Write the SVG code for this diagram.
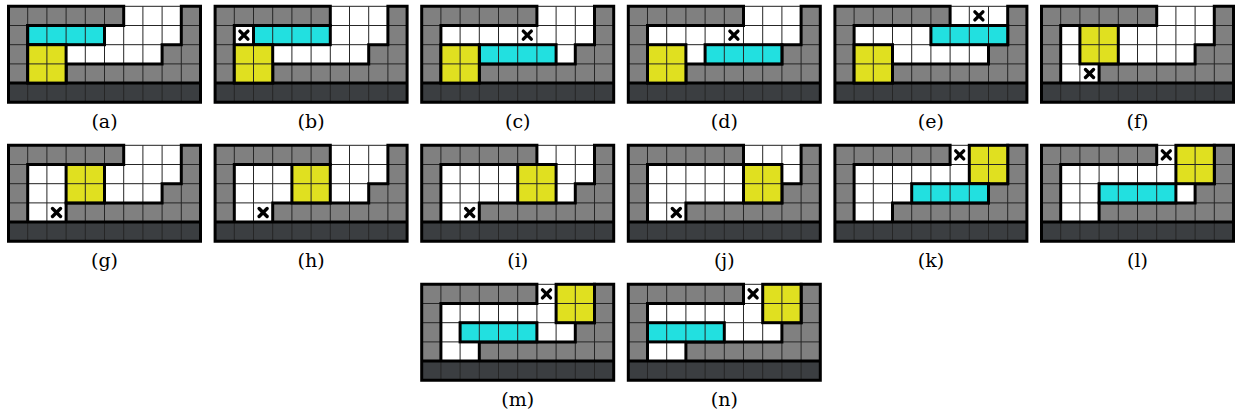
<svg xmlns="http://www.w3.org/2000/svg" xmlns:xlink="http://www.w3.org/1999/xlink" width="1235" height="418" viewBox="0 0 1235 418">
<style>
.thin{fill:none;stroke:#262626;stroke-width:1}
.thick{fill:none;stroke:#000;stroke-width:3;stroke-linecap:square;stroke-linejoin:miter}
.lbl{font-family:'DejaVu Serif','Liberation Serif',serif;font-size:19px;fill:#000;text-anchor:middle}
.xm{stroke:#000;stroke-width:3.4;stroke-linecap:round}
</style>
<defs>
<g id="board">
<rect x="0" y="0" width="192" height="76.8" fill="#808080"/>
<rect x="0" y="76.8" width="192" height="19.2" fill="#3b3e41"/>
<rect x="115.2" y="0" width="57.6" height="19.2" fill="#fff"/>
<rect x="19.2" y="19.2" width="153.6" height="19.2" fill="#fff"/>
<rect x="19.2" y="38.4" width="134.4" height="19.2" fill="#fff"/>
<rect x="19.2" y="57.6" width="38.4" height="19.2" fill="#fff"/>
<path class="thin" d="M19.2,0V96M38.4,0V96M57.6,0V96M76.8,0V96M96,0V96M115.2,0V96M134.4,0V96M153.6,0V96M172.8,0V96M0,19.2H192M0,38.4H192M0,57.6H192M115.2,0H172.8"/>
<path class="thick" d="M115.2,0H0V96H192V0H172.8M0,76.8H192M115.2,0V19.2H19.2V76.8M57.6,76.8V57.6H153.6V38.4H172.8V0"/>
</g>
<g id="cyan">
<rect x="0" y="0" width="76.8" height="19.2" fill="#22e0e0"/>
<path class="thin" d="M19.2,0V19.2M38.4,0V19.2M57.6,0V19.2"/>
<rect class="thick" x="0" y="0" width="76.8" height="19.2"/>
</g>
<g id="yellow">
<rect x="0" y="0" width="38.4" height="38.4" fill="#e0e020"/>
<path class="thin" d="M19.2,0V38.4M0,19.2H38.4"/>
<rect class="thick" x="0" y="0" width="38.4" height="38.4"/>
</g>
<g id="cross">
<line class="xm" x1="-4" y1="-4" x2="4" y2="4"/>
<line class="xm" x1="-4" y1="4" x2="4" y2="-4"/>
</g>
</defs>

<g id="panel-a" transform="translate(8.5,6.3)">
<use href="#board"/>
<use href="#cyan" x="19.2" y="19.2"/>
<use href="#yellow" x="19.2" y="38.4"/>
<text class="lbl" font-family="DejaVu Serif, serif" x="96" y="121.5">(a)</text>
</g>
<g id="panel-b" transform="translate(215.1,6.3)">
<use href="#board"/>
<use href="#cross" x="28.8" y="28.8"/>
<use href="#cyan" x="38.4" y="19.2"/>
<use href="#yellow" x="19.2" y="38.4"/>
<text class="lbl" font-family="DejaVu Serif, serif" x="96" y="121.5">(b)</text>
</g>
<g id="panel-c" transform="translate(421.7,6.3)">
<use href="#board"/>
<use href="#cross" x="105.6" y="28.8"/>
<use href="#cyan" x="57.6" y="38.4"/>
<use href="#yellow" x="19.2" y="38.4"/>
<text class="lbl" font-family="DejaVu Serif, serif" x="96" y="121.5">(c)</text>
</g>
<g id="panel-d" transform="translate(628.3,6.3)">
<use href="#board"/>
<use href="#cross" x="105.6" y="28.8"/>
<use href="#cyan" x="76.8" y="38.4"/>
<use href="#yellow" x="19.2" y="38.4"/>
<text class="lbl" font-family="DejaVu Serif, serif" x="96" y="121.5">(d)</text>
</g>
<g id="panel-e" transform="translate(834.9,6.3)">
<use href="#board"/>
<use href="#cross" x="144" y="9.6"/>
<use href="#cyan" x="96" y="19.2"/>
<use href="#yellow" x="19.2" y="38.4"/>
<text class="lbl" font-family="DejaVu Serif, serif" x="96" y="121.5">(e)</text>
</g>
<g id="panel-f" transform="translate(1041.5,6.3)">
<use href="#board"/>
<use href="#cross" x="48" y="67.2"/>
<use href="#yellow" x="38.4" y="19.2"/>
<text class="lbl" font-family="DejaVu Serif, serif" x="96" y="121.5">(f)</text>
</g>

<g id="panel-g" transform="translate(8.5,145.3)">
<use href="#board"/>
<use href="#cross" x="48" y="67.2"/>
<use href="#yellow" x="57.6" y="19.2"/>
<text class="lbl" font-family="DejaVu Serif, serif" x="96" y="121.5">(g)</text>
</g>
<g id="panel-h" transform="translate(215.1,145.3)">
<use href="#board"/>
<use href="#cross" x="48" y="67.2"/>
<use href="#yellow" x="76.8" y="19.2"/>
<text class="lbl" font-family="DejaVu Serif, serif" x="96" y="121.5">(h)</text>
</g>
<g id="panel-i" transform="translate(421.7,145.3)">
<use href="#board"/>
<use href="#cross" x="48" y="67.2"/>
<use href="#yellow" x="96" y="19.2"/>
<text class="lbl" font-family="DejaVu Serif, serif" x="96" y="121.5">(i)</text>
</g>
<g id="panel-j" transform="translate(628.3,145.3)">
<use href="#board"/>
<use href="#cross" x="48" y="67.2"/>
<use href="#yellow" x="115.2" y="19.2"/>
<text class="lbl" font-family="DejaVu Serif, serif" x="96" y="121.5">(j)</text>
</g>
<g id="panel-k" transform="translate(834.9,145.3)">
<use href="#board"/>
<use href="#cross" x="124.8" y="9.6"/>
<use href="#yellow" x="134.4" y="0"/>
<use href="#cyan" x="76.8" y="38.4"/>
<text class="lbl" font-family="DejaVu Serif, serif" x="96" y="121.5">(k)</text>
</g>
<g id="panel-l" transform="translate(1041.5,145.3)">
<use href="#board"/>
<use href="#cross" x="124.8" y="9.6"/>
<use href="#yellow" x="134.4" y="0"/>
<use href="#cyan" x="57.6" y="38.4"/>
<text class="lbl" font-family="DejaVu Serif, serif" x="96" y="121.5">(l)</text>
</g>

<g id="panel-m" transform="translate(421.7,284.3)">
<use href="#board"/>
<use href="#cross" x="124.8" y="9.6"/>
<use href="#yellow" x="134.4" y="0"/>
<use href="#cyan" x="38.4" y="38.4"/>
<text class="lbl" font-family="DejaVu Serif, serif" x="96" y="121.5">(m)</text>
</g>
<g id="panel-n" transform="translate(628.3,284.3)">
<use href="#board"/>
<use href="#cross" x="124.8" y="9.6"/>
<use href="#yellow" x="134.4" y="0"/>
<use href="#cyan" x="19.2" y="38.4"/>
<text class="lbl" font-family="DejaVu Serif, serif" x="96" y="121.5">(n)</text>
</g>
<g id="connectors"/>
</svg>
